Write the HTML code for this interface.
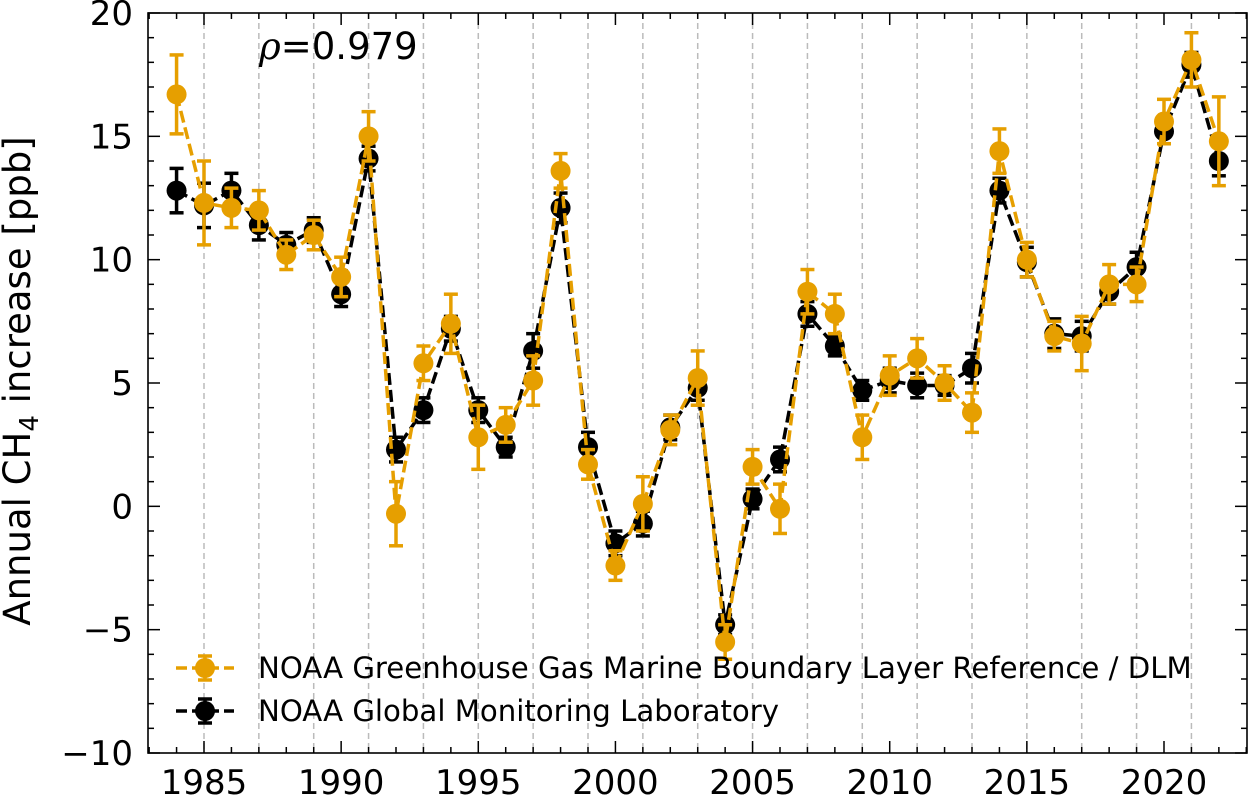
<!DOCTYPE html>
<html><head><meta charset="utf-8"><style>
body{margin:0;background:#fff}
svg{display:block;font-family:"DejaVu Sans","Liberation Sans",sans-serif}
</style></head><body>
<svg id="chart" width="1250" height="797" viewBox="0 0 1250 797" xmlns="http://www.w3.org/2000/svg">
<g id="grid"></g>
<g id="series"></g>
<rect x="148" y="13" width="1099" height="740" fill="none" stroke="#000" stroke-width="1.6"/>
<g id="ticks"></g>
<text transform="translate(30,381) rotate(-90)" text-anchor="middle" font-size="37">Annual CH<tspan font-size="26" dy="8">4</tspan><tspan dy="-8"> increase [ppb]</tspan></text>
<text x="259" y="59" font-size="37"><tspan font-family="DejaVu Serif, serif" font-style="italic">ρ</tspan>=0.979</text>
<g>
<g>
<line x1="176" y1="668" x2="234" y2="668" stroke="#E69F00" stroke-width="3.5" stroke-dasharray="11,5"/>
<line x1="205" y1="656" x2="205" y2="680" stroke="#E69F00" stroke-width="3.5"/>
<line x1="198" y1="656" x2="212" y2="656" stroke="#E69F00" stroke-width="3.5"/>
<line x1="198" y1="680" x2="212" y2="680" stroke="#E69F00" stroke-width="3.5"/>
<circle cx="205" cy="668" r="10" fill="#E69F00"/>
<text x="258" y="678" font-size="29.2">NOAA Greenhouse Gas Marine Boundary Layer Reference / DLM</text>
</g>
<g>
<line x1="176" y1="711" x2="234" y2="711" stroke="#000" stroke-width="3.5" stroke-dasharray="11,5"/>
<line x1="205" y1="699" x2="205" y2="723" stroke="#000" stroke-width="3.5"/>
<line x1="198" y1="699" x2="212" y2="699" stroke="#000" stroke-width="3.5"/>
<line x1="198" y1="723" x2="212" y2="723" stroke="#000" stroke-width="3.5"/>
<circle cx="205" cy="711" r="10" fill="#000"/>
<text x="258" y="721" font-size="29.2">NOAA Global Monitoring Laboratory</text>
</g>
</g>
</svg>
<script>
const years=[1984,1985,1986,1987,1988,1989,1990,1991,1992,1993,1994,1995,1996,1997,1998,1999,2000,2001,2002,2003,2004,2005,2006,2007,2008,2009,2010,2011,2012,2013,2014,2015,2016,2017,2018,2019,2020,2021,2022];
const mblValues=[16.7,12.3,12.1,12.0,10.2,11.0,9.3,15.0,-0.3,5.8,7.4,2.8,3.3,5.1,13.6,1.7,-2.4,0.1,3.1,5.2,-5.5,1.6,-0.1,8.7,7.8,2.8,5.3,6.0,5.0,3.8,14.4,10.0,6.9,6.6,9.0,9.0,15.6,18.1,14.8];
const mblErrors=[1.6,1.7,0.8,0.8,0.6,0.6,0.8,1.0,1.3,0.7,1.2,1.3,0.7,1.0,0.7,0.6,0.6,1.1,0.6,1.1,0.7,0.7,1.0,0.9,0.8,0.9,0.8,0.8,0.7,0.8,0.9,0.7,0.6,1.1,0.8,0.7,0.9,1.1,1.8];
const gmlValues=[12.8,12.2,12.8,11.4,10.6,11.2,8.6,14.1,2.3,3.9,7.2,3.9,2.4,6.3,12.1,2.4,-1.5,-0.7,3.2,4.8,-4.8,0.3,1.9,7.8,6.5,4.7,5.1,4.9,4.9,5.6,12.8,9.9,7.0,6.9,8.7,9.7,15.2,17.9,14.0];
const gmlErrors=[0.9,0.9,0.7,0.6,0.5,0.5,0.5,0.5,0.5,0.5,0.5,0.5,0.4,0.7,0.6,0.6,0.5,0.5,0.5,0.5,0.4,0.4,0.5,0.5,0.4,0.4,0.5,0.5,0.4,0.6,0.5,0.6,0.6,0.6,0.5,0.6,0.5,0.5,0.6];
const xTickLabels=[1985,1990,1995,2000,2005,2010,2015,2020];
const yTickLabels=[-10,-5,0,5,10,15,20];

const NS='http://www.w3.org/2000/svg';
const L=148,R=1247,T=13,B=753;
const x=v=>204+(v-1985)*(960/35);
const y=v=>B-(v+10)*(B-T)/30;
function mk(tag,attrs,parent){const e=document.createElementNS(NS,tag);for(const k in attrs)e.setAttribute(k,attrs[k]);parent.appendChild(e);return e;}
const grid=document.getElementById('grid'),ticks=document.getElementById('ticks'),series=document.getElementById('series');
for(let yr=1985;yr<=2021;yr+=2){
  const g=mk('line',{x1:x(yr),x2:x(yr),y1:T,y2:B,stroke:'#bbb','stroke-width':1.5,'stroke-dasharray':'6,4'},grid);
  
  
}
for(let yr=1983;yr<=2023;yr++){
  const xp=x(yr); if(xp<L||xp>R)continue;
  const len=yr%5===0?12:6;
  mk('line',{x1:xp,x2:xp,y1:B,y2:B-len,stroke:'#000','stroke-width':1.5},ticks);
  mk('line',{x1:xp,x2:xp,y1:T,y2:T+len,stroke:'#000','stroke-width':1.5},ticks);
}
for(let v=-10;v<=20;v++){
  const len=v%5===0?12:6,yp=y(v);
  mk('line',{x1:L,x2:L+len,y1:yp,y2:yp,stroke:'#000','stroke-width':1.5},ticks);
  mk('line',{x1:R,x2:R-len,y1:yp,y2:yp,stroke:'#000','stroke-width':1.5},ticks);
}
xTickLabels.forEach(v=>{
  const t=mk('text',{x:x(v),y:794,'text-anchor':'middle','font-size':34},ticks);
  t.textContent=v;
  
  
});
yTickLabels.forEach(v=>{
  const t=mk('text',{x:133,y:y(v)+12,'text-anchor':'end','font-size':34},ticks);
  t.textContent=v<0?'\u2212'+Math.abs(v):v;
  
  
});
function drawSeries(vals,errs,color,name){
  const g=mk('g',{},series);
  
  
  const pts=years.map((yr,i)=>x(yr)+','+y(vals[i])).join(' ');
  mk('polyline',{points:pts,fill:'none',stroke:color,'stroke-width':3.5,'stroke-dasharray':'12,5'},g);
  years.forEach((yr,i)=>{
    const cx=x(yr),y1=y(vals[i]+errs[i]),y2=y(vals[i]-errs[i]);
    mk('line',{x1:cx,x2:cx,y1:y1,y2:y2,stroke:color,'stroke-width':3.5},g);
    mk('line',{x1:cx-7,x2:cx+7,y1:y1,y2:y1,stroke:color,'stroke-width':3.5},g);
    mk('line',{x1:cx-7,x2:cx+7,y1:y2,y2:y2,stroke:color,'stroke-width':3.5},g);
    const c=mk('circle',{cx:cx,cy:y(vals[i]),r:10,fill:color},g);
    
    
  });
}
drawSeries(gmlValues,gmlErrors,'#000','series-noaa-gml');
drawSeries(mblValues,mblErrors,'#E69F00','series-noaa-mbl');
</script>
</body></html>
